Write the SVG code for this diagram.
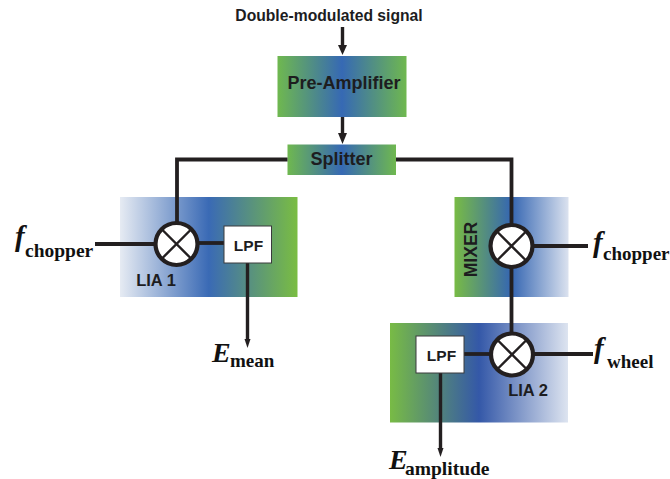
<svg xmlns="http://www.w3.org/2000/svg" width="670" height="479" viewBox="0 0 670 479">
<style>
.s{font-family:"Liberation Sans",Arial,sans-serif;font-weight:bold;fill:#1d1d1f}
.t{font-family:"Liberation Serif","Times New Roman",serif;font-weight:bold;fill:#111}
.i{font-style:italic}
.w{stroke:#231f20;fill:none;stroke-width:3.8}
.a{stroke:#231f20;fill:none;stroke-width:3.4}
.h{fill:#231f20}
.m{fill:#fff;stroke:#231f20;stroke-width:4.2}
.x{stroke:#231f20;stroke-width:2.4;fill:none}
.l{fill:#fff;stroke:#3a3a3c;stroke-width:1}
</style>
<defs>
<linearGradient id="gbg"><stop offset="0" stop-color="#6fb84f"/><stop offset=".5" stop-color="#3669b4"/><stop offset="1" stop-color="#6fb84f"/></linearGradient>
<linearGradient id="wbg"><stop offset="0" stop-color="#e6ebf3"/><stop offset=".5" stop-color="#3a6ab5"/><stop offset="1" stop-color="#7abd42"/></linearGradient>
<linearGradient id="gbw"><stop offset="0" stop-color="#78bb45"/><stop offset=".5" stop-color="#3566b2"/><stop offset="1" stop-color="#dbe2ef"/></linearGradient>
<linearGradient id="gbw2"><stop offset="0" stop-color="#78bb45"/><stop offset=".5" stop-color="#3458a8"/><stop offset="1" stop-color="#dde4f0"/></linearGradient>
</defs>
<g id="pre-amplifier"><rect x="277.500" y="56" width="129" height="61" fill="url(#gbg)"/><text class="s" x="344" y="89" font-size="18" text-anchor="middle">Pre-Amplifier</text></g>
<g id="splitter"><rect x="287.500" y="144.500" width="108.500" height="30.500" fill="url(#gbg)"/><text class="s" x="341.500" y="165" font-size="18" text-anchor="middle">Splitter</text></g>
<g id="lia1"><rect x="120" y="197" width="177.500" height="100" fill="url(#wbg)"/><text class="s" x="156" y="286" font-size="16.500" text-anchor="middle">LIA 1</text></g>
<g id="mixer"><rect x="454.500" y="197" width="114" height="100" fill="url(#gbw)"/><text class="s" transform="translate(477 249.500) rotate(-90)" font-size="17.500" text-anchor="middle">MIXER</text></g>
<g id="lia2"><rect x="390" y="323" width="178" height="99.500" fill="url(#gbw2)"/><text class="s" x="528" y="396" font-size="16.500" text-anchor="middle">LIA 2</text></g>
<g id="connectors">
<path class="a" d="M342.500 27V46"/><path class="h" d="M338 45h9l-4.500 10z"/>
<path class="a" d="M342.500 117V134"/><path class="h" d="M338 133h9l-4.500 11z"/>
<path class="w" d="M287.500 159.500H177V224"/>
<path class="w" d="M396 159.500H511.500V334"/>
<path class="w" d="M95 244H155"/>
<path class="w" d="M197 243H224"/>
<path class="w" d="M533 246H588"/>
<path class="w" d="M533 354H593"/>
<path class="w" d="M464 354H490"/>
<path class="a" d="M247.500 262V340"/><path class="h" d="M244.500 339h6l-3 9z"/>
<path class="a" d="M440.500 373V449"/><path class="h" d="M437.500 448h6l-3 9z"/>
</g>
<g id="mixer-1"><circle class="m" cx="176.500" cy="244" r="21"/><path class="x" d="M162 229.500L191 258.500M191 229.500L162 258.500"/></g>
<g id="mixer-2"><circle class="m" cx="511.500" cy="246" r="21"/><path class="x" d="M497 231.500L526 260.500M526 231.500L497 260.500"/></g>
<g id="mixer-3"><circle class="m" cx="512" cy="354.500" r="21"/><path class="x" d="M497.500 340L526.500 369M526.500 340L497.500 369"/></g>
<g id="lpf-1"><rect class="l" x="224" y="226" width="47.500" height="37"/><text class="s" x="248.500" y="251" font-size="15.500" text-anchor="middle">LPF</text></g>
<g id="lpf-2"><rect class="l" x="416" y="336" width="48" height="37"/><text class="s" x="441.500" y="361" font-size="15.500" text-anchor="middle">LPF</text></g>
<g id="labels">
<text class="s" x="329" y="21" font-size="15.700" text-anchor="middle">Double-modulated signal</text>
<text class="t i" x="15" y="246" font-size="29">f</text><text class="t" x="25" y="257" font-size="19.500">chopper</text>
<text class="t i" x="212" y="362" font-size="28">E</text><text class="t" x="230" y="367" font-size="19">mean</text>
<text class="t i" x="593" y="252" font-size="29">f</text><text class="t" x="603" y="260" font-size="19">chopper</text>
<text class="t i" x="594" y="358" font-size="29">f</text><text class="t" x="607" y="368" font-size="19">wheel</text>
<text class="t i" x="389" y="469" font-size="28">E</text><text class="t" x="405" y="475" font-size="19.500">amplitude</text>
</g>
</svg>
